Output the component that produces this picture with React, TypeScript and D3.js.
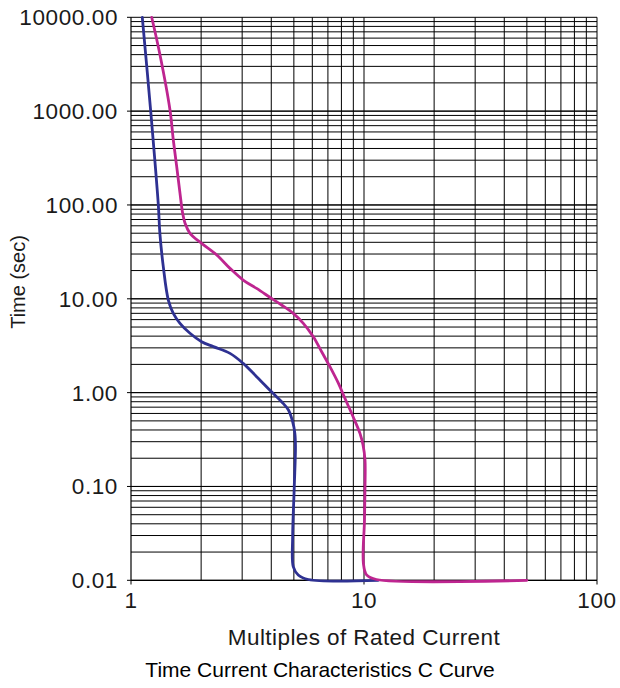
import React from "react";
import * as d3 from "d3";

const blueX = [1.118, 1.215, 1.31, 1.33, 1.376, 1.446, 1.519, 1.623, 1.791, 2.01, 2.256, 2.66, 3.03, 3.46, 4.01, 4.43, 4.74, 4.94, 5.05, 5.08, 5.02, 4.94, 4.97, 5.22, 5.77, 11.5];
const blueY = [10000, 1000, 100, 50, 22, 9.7, 7.0, 5.48, 4.29, 3.49, 3.09, 2.62, 2.05, 1.48, 1.02, 0.8, 0.653, 0.49, 0.368, 0.266, 0.099, 0.029, 0.014, 0.0114, 0.0102, 0.01];

const magX = [1.227, 1.332, 1.47, 1.519, 1.571, 1.623, 1.666, 1.706, 1.791, 2.01, 2.333, 2.66, 3.03, 3.46, 4.01, 4.43, 4.97, 5.49, 6.06, 6.58, 7.14, 7.76, 8.28, 8.98, 9.61, 9.9, 10.1, 10.1, 10.05, 9.94, 10.26, 11.3, 50];
const magY = [10000, 3966, 1028, 492, 256, 133, 81.5, 63.8, 49.9, 39, 29.3, 21.1, 15.85, 12.9, 10.1, 8.59, 7.0, 5.48, 3.94, 2.73, 1.89, 1.26, 0.87, 0.553, 0.368, 0.278, 0.191, 0.1, 0.044, 0.0152, 0.0114, 0.0102, 0.01];

const xTicks = [1, 10, 100];
const xTickLabels = ["1", "10", "100"];
const yTicks = [10000, 1000, 100, 10, 1, 0.1, 0.01];
const yTickLabels = ["10000.00", "1000.00", "100.00", "10.00", "1.00", "0.10", "0.01"];

const xLabel = "Multiples of Rated Current";
const yLabel = "Time (sec)";
const title = "Time Current Characteristics C Curve";

export default function App() {
  const W = 620;
  const H = 688;
  const x = d3.scaleLog().domain([1, 100]).range([131, 597]);
  const y = d3.scaleLog().domain([0.01, 10000]).range([580.3, 17.3]);

  const xGrid: number[] = [];
  for (const d of [1, 10]) for (let k = 2; k <= 10; k++) xGrid.push(d * k);
  const yGrid: number[] = [];
  for (const d of [0.01, 0.1, 1, 10, 100, 1000]) for (let k = 1; k <= 10; k++) yGrid.push(d * k);

  const line = d3
    .line<[number, number]>()
    .x((d) => x(d[0]))
    .y((d) => y(d[1]))
    .curve(d3.curveCatmullRom.alpha(0.5));

  const blue: [number, number][] = blueX.map((v, i) => [v, blueY[i]]);
  const mag: [number, number][] = magX.map((v, i) => [v, magY[i]]);

  const font = "'Liberation Sans', Arial, Helvetica, sans-serif";

  return (
    <div style={{ position: "absolute", left: 0, top: 0, width: W, height: H, background: "#fff" }}>
      <svg width={W} height={H} style={{ display: "block" }}>
        <rect width={W} height={H} fill="#fff" />
        {yGrid.map((v, i) => (
          <line key={"yg" + i} x1={131} x2={597} y1={y(v)} y2={y(v)} stroke="#000" strokeWidth={1} />
        ))}
        {xGrid.map((v, i) => (
          <line key={"xg" + i} x1={x(v)} x2={x(v)} y1={17.3} y2={580.3} stroke="#000" strokeWidth={1} />
        ))}
        <line x1={131} x2={131} y1={17.3} y2={580.3} stroke="#000" strokeWidth={1.2} />
        <line x1={131} x2={597} y1={580.3} y2={580.3} stroke="#000" strokeWidth={1.2} />
        {yTicks.map((v, i) => (
          <g key={"yt" + i}>
            <line x1={127} x2={131} y1={y(v)} y2={y(v)} stroke="#000" />
            <text x={118} y={y(v) + 8} textAnchor="end" fontFamily={font} fontSize={22.5} letterSpacing={0.6} fill="#1a1a1a">
              {yTickLabels[i]}
            </text>
          </g>
        ))}
        {xTicks.map((v, i) => (
          <g key={"xt" + i}>
            <line x1={x(v)} x2={x(v)} y1={580.3} y2={584.5} stroke="#000" />
            <text x={x(v)} y={608} textAnchor="middle" fontFamily={font} fontSize={22.5} letterSpacing={0.6} fill="#1a1a1a">
              {xTickLabels[i]}
            </text>
          </g>
        ))}
        <path d={line(blue) || ""} fill="none" stroke="#2E3192" strokeWidth={2.8} strokeLinejoin="round" strokeLinecap="round" />
        <path d={line(mag) || ""} fill="none" stroke="#BE2590" strokeWidth={2.8} strokeLinejoin="round" strokeLinecap="round" />
        <text x={364} y={645} textAnchor="middle" fontFamily={font} fontSize={22.5} letterSpacing={0.42} fill="#1a1a1a">
          {xLabel}
        </text>
        <text transform="translate(25,282) rotate(-90)" textAnchor="middle" fontFamily={font} fontSize={20} fill="#1a1a1a">
          {yLabel}
        </text>
        <text x={320} y={677} textAnchor="middle" fontFamily={font} fontSize={21} fill="#000">
          {title}
        </text>
      </svg>
    </div>
  );
}
